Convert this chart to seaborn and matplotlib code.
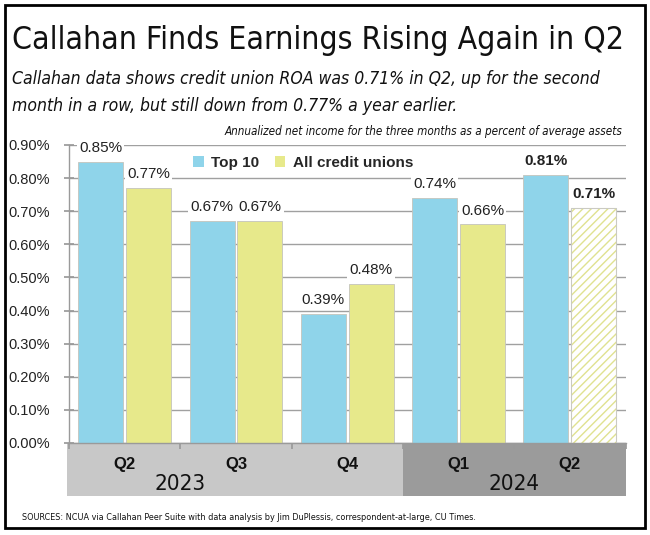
import numpy as np
import pandas as pd
import matplotlib
matplotlib.use("Agg")
import matplotlib.pyplot as plt
from matplotlib.patches import Rectangle
import seaborn as sns

# data
quarters = ["Q2", "Q3", "Q4", "Q1", "Q2 "]
quarter_labels = ["Q2", "Q3", "Q4", "Q1", "Q2"]
years = ["2023", "2024"]
year_pos = [0.5, 3.5]
top10 = [0.85, 0.67, 0.39, 0.74, 0.81]
all_cu = [0.77, 0.67, 0.48, 0.66, 0.71]
series = ["Top 10", "All credit unions"]

W, H = 650, 535
def fx(x):
    return x / W
def fy(y):
    return 1 - y / H

sns.set_theme(style="white")
plt.rcParams["font.family"] = ["Liberation Sans", "DejaVu Sans"]
NARROW = dict(family="DejaVu Sans", fontstretch="condensed")

df = pd.DataFrame({
    "quarter": quarters * 2,
    "roa": top10 + all_cu,
    "series": [series[0]] * 5 + [series[1]] * 5,
})

blue = "#8fd4ea"
yellow = "#e7e98b"

fig = plt.figure(figsize=(6.5, 5.35), dpi=100)

# band under the chart with quarter and year labels
axb = fig.add_axes([fx(67), fy(496), fx(626) - fx(67), (496 - 443) / H])
axb.set_xlim(-0.5 - 2 / 111.3, 4.5 + 0.5 / 111.3)
axb.set_ylim(0, 1)
axb.axvspan(-1, 2.5, color="#c8c8c8", lw=0)
axb.axvspan(2.5, 5, color="#9b9b9b", lw=0)
for i, q in enumerate(quarter_labels):
    axb.text(i, 0.6, q, ha="center", va="center", fontsize=12,
             fontweight="bold", color="#111")
for xp, yr in zip(year_pos, years):
    axb.text(xp, 0.23, yr, ha="center", va="center", fontsize=16,
             color="#111", **NARROW)
axb.axis("off")

ax = fig.add_axes([fx(69), fy(443), fx(625.5) - fx(69), (443 - 145) / H])
ax.set_zorder(3)
ax.patch.set_alpha(0)

sns.barplot(data=df, x="quarter", y="roa", hue="series",
            palette=[blue, yellow], saturation=1, width=0.86, gap=0.06,
            edgecolor="#c4c4bc", linewidth=0.6, ax=ax, legend=False)

# last bar: hatched, estimate
last = ax.containers[1].patches[-1]
last.set_facecolor("white")
last.set_edgecolor("#e0e290")
last.set_hatch("////")
x0, w, h = last.get_x(), last.get_width(), last.get_height()
ax.add_patch(Rectangle((x0, 0), w, h, fill=False, ec="#cacac2", lw=0.8, zorder=3))

ax.set_xlim(-0.5, 4.5)
ax.set_ylim(0, 0.9)
ax.set_yticks(np.arange(0, 0.91, 0.1))
ax.set_yticklabels([f"{v:.2f}%" for v in np.arange(0, 0.91, 0.1)])
ax.set_xticks(np.arange(-0.5, 4.6, 1.0))
ax.set_xticklabels([])
ax.set_xlabel("")
ax.set_ylabel("")
ax.yaxis.grid(True, color="#a0a0a0", lw=1)
ax.set_axisbelow(True)
for s in ["top", "right"]:
    ax.spines[s].set_visible(False)
for s in ["left", "bottom"]:
    ax.spines[s].set_color("#9a9a9a")
    ax.spines[s].set_linewidth(1)
ax.tick_params(axis="y", direction="inout", length=7, color="#9a9a9a",
               labelsize=10.5, labelcolor="#222", pad=10, left=True)
ax.tick_params(axis="x", direction="out", length=4, color="#9a9a9a", bottom=True)

# value labels
for ci, vals in enumerate([top10, all_cu]):
    labs = ax.bar_label(ax.containers[ci], labels=[f"{v:.2f}%" for v in vals],
                        padding=5, fontsize=11, color="#222",
                        bbox=dict(fc="white", ec="none", pad=1.5))
    labs[-1].set_fontweight("bold")

# legend
handles = [Rectangle((0, 0), 1, 1, fc=blue, ec="none"),
           Rectangle((0, 0), 1, 1, fc=yellow, ec="none")]
ax.legend(handles, series, loc="center left",
          bbox_to_anchor=((193 - 69) / (625.5 - 69), (443 - 163) / 298),
          ncol=2, frameon=False, prop=dict(weight="bold", size=11),
          handlelength=0.7, handleheight=0.7, handletextpad=0.5, columnspacing=1.0,
          borderaxespad=0, borderpad=0)

# titles and notes
title = fig.text(fx(12), fy(41), "Callahan Finds Earnings Rising Again in Q2",
                 fontsize=32, va="center", ha="left", color="#111", **NARROW)
sub1 = fig.text(fx(12), fy(79), "Callahan data shows credit union ROA was 0.71% in Q2, up for the second",
                style="italic", fontsize=16, va="center", color="#111", **NARROW)
sub2 = fig.text(fx(12), fy(106), "month in a row, but still down from 0.77% a year earlier.",
                style="italic", fontsize=16, va="center", color="#111", **NARROW)
note = fig.text(fx(622), fy(131), "Annualized net income for the three months as a percent of average assets",
                style="italic", fontsize=9, va="center", ha="right", color="#111", **NARROW)
src = fig.text(fx(22), fy(517), "SOURCES: NCUA via Callahan Peer Suite with data analysis by Jim DuPlessis, correspondent-at-large, CU Times.",
               fontsize=8, va="center", ha="left", color="#111", **NARROW)

fig.canvas.draw()
r = fig.canvas.get_renderer()
for t, target in [(title, 613), (sub1, 588), (note, 395), (src, 455)]:
    bb = t.get_window_extent(r)
    t.set_fontsize(t.get_fontsize() * target / bb.width)
sub2.set_fontsize(sub1.get_fontsize())

# outer frame
fig.add_artist(Rectangle((fx(5), fy(528)), fx(645) - fx(5), (528 - 5) / H,
                         transform=fig.transFigure, fill=False, ec="black", lw=2))

fig.savefig("out.png", dpi=100)
